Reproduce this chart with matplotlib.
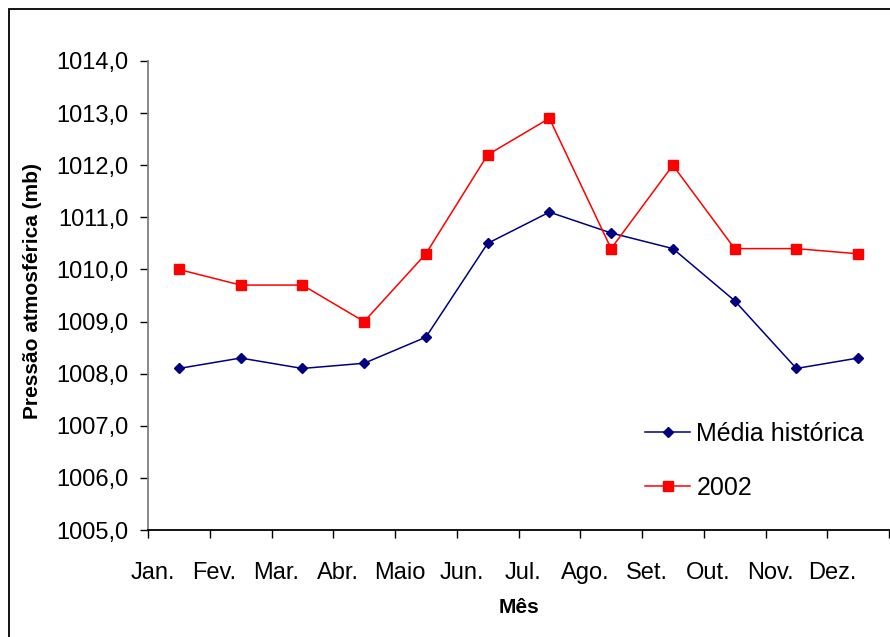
import matplotlib
matplotlib.use("Agg")
import matplotlib.pyplot as plt
import matplotlib.transforms as mtransforms
from matplotlib.patches import Rectangle
import numpy as np

plt.rcParams['font.family'] = ['Liberation Sans', 'DejaVu Sans']

meses = ["Jan.", "Fev.", "Mar.", "Abr.", "Maio", "Jun.", "Jul.", "Ago.",
         "Set.", "Out.", "Nov.", "Dez."]
media_historica = [1008.1, 1008.3, 1008.1, 1008.2, 1008.7, 1010.5,
                   1011.1, 1010.7, 1010.4, 1009.4, 1008.1, 1008.3]
ano_2002 = [1010.0, 1009.7, 1009.7, 1009.0, 1010.3, 1012.2,
            1012.9, 1010.4, 1012.0, 1010.4, 1010.4, 1010.3]
y_ticks = [1005, 1006, 1007, 1008, 1009, 1010, 1011, 1012, 1013, 1014]

W, H = 890, 637
fig = plt.figure(figsize=(W / 100, H / 100), dpi=100)
ax = fig.add_axes([148 / W, 107 / H, 741 / W, 469 / H])

x = np.arange(len(meses))
ax.plot(x, media_historica, color="#000080", lw=1.1, marker="D", ms=5.5,
        label="Média histórica")
ax.plot(x, ano_2002, color="#FF0000", lw=1.1, marker="s", ms=7,
        label="2002")

ax.set_xlim(-0.5, len(meses) - 0.5)
ax.set_ylim(1005, 1014)

# ticks between categories, labels in the middle (shifted left like Excel)
ax.set_xticks(np.arange(-0.5, len(meses), 1.0))
ax.set_xticklabels([])
ax.set_xticks(x, minor=True)
ax.set_xticklabels(meses, minor=True, fontsize=17)
ax.tick_params(axis="x", which="major", direction="out", length=6,
               width=1, color="black")
ax.tick_params(axis="x", which="minor", length=0, pad=23)
shift = mtransforms.ScaledTranslation(-26 / 100, 0, fig.dpi_scale_trans)
for lab in ax.get_xticklabels(minor=True):
    lab.set_transform(lab.get_transform() + shift)

ax.set_yticks(y_ticks)
ax.set_yticklabels([f"{v:.1f}".replace(".", ",") for v in y_ticks], fontsize=17)
ax.tick_params(axis="y", direction="out", length=6, width=1, color="black",
               pad=8)

for s in ["top", "right"]:
    ax.spines[s].set_visible(False)
ax.spines["left"].set_color("#808080")
ax.spines["left"].set_linewidth(1.3)
ax.spines["bottom"].set_color("black")
ax.spines["bottom"].set_linewidth(1.3)

ax.set_ylabel("Pressão atmosférica (mb)", fontsize=15, fontweight="bold")
ax.yaxis.set_label_coords((42 - 148) / 741, 0.51)
ax.set_xlabel("Mês", fontsize=15, fontweight="bold")
ax.xaxis.set_label_coords(0.5007, (530 - 598) / 469)

ax.legend(loc="center left", bbox_to_anchor=(645 / W, 1 - 461 / H),
          bbox_transform=fig.transFigure, frameon=False, fontsize=18,
          handlelength=1.8, handletextpad=0.25, labelspacing=1.2,
          borderpad=0, borderaxespad=0)

fig.patches.append(Rectangle((9 / W, -0.1), 1.2, 1 - 9 / H + 0.1,
                             transform=fig.transFigure, fill=False,
                             edgecolor="black", lw=1.3))

fig.savefig("out.png", dpi=100)
